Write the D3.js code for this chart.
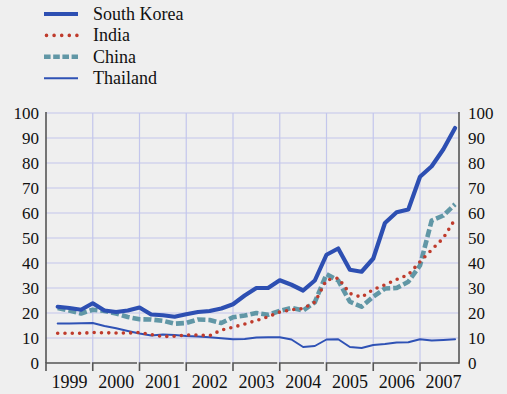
<!DOCTYPE html>
<html>
<head>
<meta charset="utf-8">
<script src="https://cdn.jsdelivr.net/npm/d3@7"></script>
<style>
  html, body { margin: 0; padding: 0; background: #efefef; }
  svg { display: block; }
  svg text { font-family: "Liberation Serif", "Times New Roman", serif !important; fill: #111; }
</style>
</head>
<body>
<svg id="chart" width="507" height="394"></svg>
<script>
// Quarterly observations, 1999Q1 .. 2007Q3
const quarters = [
  "1999Q1","1999Q2","1999Q3","1999Q4",
  "2000Q1","2000Q2","2000Q3","2000Q4",
  "2001Q1","2001Q2","2001Q3","2001Q4",
  "2002Q1","2002Q2","2002Q3","2002Q4",
  "2003Q1","2003Q2","2003Q3","2003Q4",
  "2004Q1","2004Q2","2004Q3","2004Q4",
  "2005Q1","2005Q2","2005Q3","2005Q4",
  "2006Q1","2006Q2","2006Q3","2006Q4",
  "2007Q1","2007Q2","2007Q3"
];

const southKorea = [22.5,22,21.3,23.9,21,20.4,21,22.2,19.4,19.1,18.5,19.5,20.4,20.8,21.8,23.5,27,30,30,33.1,31.3,29,33,43.3,45.8,37.3,36.5,41.8,56,60.3,61.4,74.5,78.7,85.5,94];
const india      = [11.9,11.9,11.9,12.2,12.1,12,12,12.2,11.4,10.6,10.7,11.2,11.2,10.9,13.2,14.3,15.6,17,18.5,20.4,21.3,21.8,24.3,33.2,34,27.8,26.3,29.4,31.3,33.4,35.3,40.5,45.3,50,57.5];
const china      = [22,21,19.8,21.3,20.8,19.8,18.4,17.5,17.4,16.9,15.7,16,17.4,17.2,16,18.3,19,20,19.3,20.8,22,21,24.3,35.5,33,24.5,22.5,26.5,29.8,30,32.5,39,57,59,63.5];
const thailand   = [15.8,15.8,15.9,16,14.8,13.9,12.8,11.8,11,11.4,11.2,10.8,10.6,10.3,9.9,9.5,9.6,10.2,10.3,10.3,9.4,6.4,6.8,9.4,9.5,6.4,6.0,7.2,7.6,8.2,8.3,9.5,9,9.2,9.5];

const years = ["1999","2000","2001","2002","2003","2004","2005","2006","2007"];
const yTicks = [0,10,20,30,40,50,60,70,80,90,100];

const series = [
  { name: "South Korea", values: southKorea, color: "#2d4fb2", width: 4.2, dash: null,     legendDash: null,      cap: "round" },
  { name: "India",       values: india,      color: "#bf3b2c", width: 3.6, dash: "0 7.3",  legendDash: "0 7.6",   cap: "round" },
  { name: "China",       values: china,      color: "#6197a6", width: 4.6, dash: "8 3",    legendDash: "6.6 2.6", cap: "butt"  },
  { name: "Thailand",    values: thailand,   color: "#2f52b5", width: 2,   dash: null,     legendDash: null,      cap: "round" }
];

const svg = d3.select("#chart");
const plot = { left: 46, right: 459, top: 113, bottom: 363 };

// quarter label -> fractional year at the end of the quarter
const qTime = q => +q.slice(0, 4) + (+q.slice(5)) / 4;

const x = d3.scaleLinear().domain([1999, 2008]).range([plot.left, plot.left + 9 * 46.75]);
const y = d3.scaleLinear().domain([0, 100]).range([plot.bottom, plot.top]);

// grid
const grid = svg.append("g").attr("stroke", "#c3c6ec").attr("stroke-width", 1.2);
grid.selectAll("line.h").data(yTicks.filter(d => d > 0)).join("line")
  .attr("class", "h")
  .attr("x1", plot.left).attr("x2", plot.right)
  .attr("y1", d => y(d)).attr("y2", d => y(d));
grid.selectAll("line.v").data(years.slice(1).map(Number)).join("line")
  .attr("class", "v")
  .attr("x1", d => x(d)).attr("x2", d => x(d))
  .attr("y1", plot.top).attr("y2", plot.bottom);

// series lines
const line = d3.line()
  .x((d, i) => x(qTime(quarters[i])))
  .y(d => y(d));

svg.append("g").selectAll("path").data(series.slice().reverse()).join("path")
  .attr("fill", "none")
  .attr("stroke", s => s.color)
  .attr("stroke-width", s => s.width)
  .attr("stroke-dasharray", s => s.dash)
  .attr("stroke-linecap", s => s.cap)
  .attr("stroke-linejoin", "round")
  .attr("d", s => line(s.values));

// y axes (left and right), drawn without tick marks
const axisColor = "#555";
svg.append("line").attr("x1", plot.left).attr("x2", plot.left).attr("y1", plot.top - 1).attr("y2", plot.bottom)
  .attr("stroke", axisColor).attr("stroke-width", 1.6);
svg.append("line").attr("x1", plot.right).attr("x2", plot.right).attr("y1", plot.top - 1).attr("y2", plot.bottom + 0.8)
  .attr("stroke", axisColor).attr("stroke-width", 1.6);

const yl = svg.append("g").attr("transform", `translate(${plot.left},0)`)
  .call(d3.axisLeft(y).tickValues(yTicks).tickSize(0).tickPadding(7));
const yr = svg.append("g").attr("transform", `translate(${plot.right},0)`)
  .call(d3.axisRight(y).tickValues(yTicks).tickSize(0).tickPadding(9));
[yl, yr].forEach(g => {
  g.select(".domain").remove();
  g.attr("font-family", null);
  g.selectAll("text").attr("font-size", 17).attr("fill", "#111");
});

// x axis: one bracket per year
const xa = svg.append("g");
xa.selectAll("path").data(years).join("path")
  .attr("fill", "none").attr("stroke", axisColor).attr("stroke-width", 1.6)
  .attr("d", d => {
    const x0 = x(+d), x1 = Math.min(x(+d + 1) - 2.5, plot.right);
    return `M${x0},${plot.bottom + 8}V${plot.bottom}H${x1}`;
  });
xa.selectAll("text").data(years).join("text")
  .attr("x", d => (x(+d) + x(+d + 1)) / 2)
  .attr("y", 388)
  .attr("text-anchor", "middle")
  .attr("font-size", 18)
  .text(d => d);

// legend
const lg = svg.append("g");
const rows = lg.selectAll("g").data(series).join("g")
  .attr("transform", (d, i) => `translate(0,${14 + i * 21.4})`);
rows.append("line")
  .attr("x1", s => s.cap === "round" && s.dash ? 46.5 : 44).attr("x2", 78)
  .attr("stroke", s => s.color)
  .attr("stroke-width", s => s.width)
  .attr("stroke-dasharray", s => s.legendDash)
  .attr("stroke-linecap", s => s.dash ? s.cap : "butt");
rows.append("text")
  .attr("x", 93).attr("y", 0).attr("dy", "0.33em")
  .attr("font-size", 18)
  .text(s => s.name);
</script>
</body>
</html>
